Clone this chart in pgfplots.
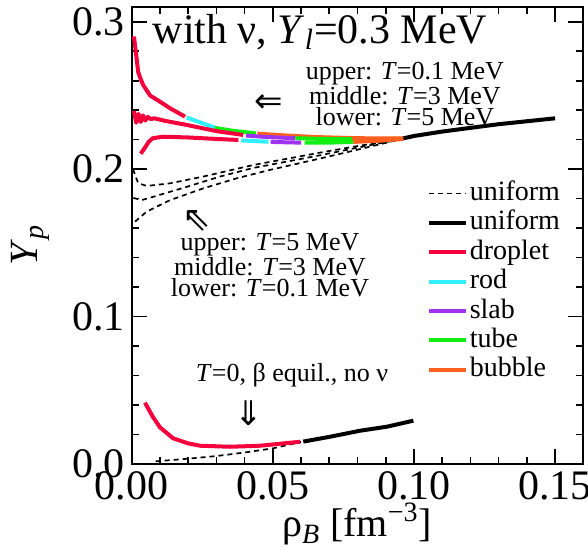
\documentclass[border=0pt]{standalone}
\usepackage{fontspec}
\setmainfont{Liberation Serif}
\newfontfamily\arrowfont{DejaVu Sans}
\usepackage{pgfplots}
\pgfplotsset{compat=1.18}
\definecolor{cDrop}{HTML}{F5003C}
\definecolor{cRod}{HTML}{33F0FF}
\definecolor{cSlab}{HTML}{A033F0}
\definecolor{cTube}{HTML}{11EE11}
\definecolor{cBub}{HTML}{FF6020}

\begin{document}
\begin{tikzpicture}
\begin{axis}[
  scale only axis, width=225.8pt, height=228.5pt,
  xmin=0, xmax=0.16, ymin=0, ymax=0.31,
  xtick={0,0.05,0.1,0.15}, ytick={0,0.1,0.2,0.3},
  minor x tick num=4, minor y tick num=4,
  scaled x ticks=false, scaled y ticks=false,
  xticklabel style={/pgf/number format/fixed, /pgf/number format/fixed zerofill, /pgf/number format/precision=2},
  yticklabel style={/pgf/number format/fixed, /pgf/number format/fixed zerofill, /pgf/number format/precision=1},
  /pgf/number format/assume math mode=true,
  tick label style={font=\fontsize{21}{24}\selectfont},
  major tick length=7.5pt, minor tick length=3.5pt,
  axis line style={line width=1pt},
  tick style={line width=0.8pt, black},
  xlabel={ρ\textsubscript{\textit{B}} [fm\textsuperscript{−3}]},
  ylabel={\textit{Y}\textsubscript{\textit{p}}},
  label style={font=\fontsize{20}{24}\selectfont},
  xlabel style={at={(axis description cs:0.499,-0.132)}, anchor=center},
  ylabel style={at={(axis description cs:-0.225,0.479)}, anchor=center, rotate=0},
  legend style={at={(axis cs:0.1045,0.1938)}, anchor=north west, draw=none, fill=none,
    font=\fontsize{14}{16}\selectfont, inner sep=0pt,
    nodes={inner sep=0.85pt, text height=10pt, text depth=3pt}},
  legend image code/.code={\draw[#1] (0pt,0pt) -- (18.5pt,0pt);},
  legend cell align=left,
  every axis plot/.append style={line width=2pt, line join=round},
]
% legend
\addlegendimage{black, line width=0.8pt, dash pattern=on 2.5pt off 2pt}
\addlegendentry{uniform}
\addlegendimage{black, line width=2pt}
\addlegendentry{uniform}
\addlegendimage{cDrop, line width=2pt}
\addlegendentry{droplet}
\addlegendimage{cRod, line width=2pt}
\addlegendentry{rod}
\addlegendimage{cSlab, line width=2pt}
\addlegendentry{slab}
\addlegendimage{cTube, line width=2pt}
\addlegendentry{tube}
\addlegendimage{cBub, line width=2pt}
\addlegendentry{bubble}

% uniform, dashed (with nu)
\addplot[forget plot, black, line width=0.85pt, dash pattern=on 2.5pt off 2pt] coordinates {
 (0.0005,0.200) (0.0012,0.196) (0.0023,0.1905) (0.0053,0.1886) (0.0136,0.1904)
 (0.0254,0.195) (0.043,0.2028) (0.0667,0.2112) (0.0785,0.2152) (0.096,0.2206)};
\addplot[forget plot, black, line width=0.85pt, dash pattern=on 2.5pt off 2pt] coordinates {
 (0.0006,0.1805) (0.0035,0.1790) (0.0077,0.1813) (0.0195,0.188) (0.0313,0.195)
 (0.043,0.2008) (0.0667,0.2094) (0.0785,0.2140) (0.096,0.2206)};
\addplot[forget plot, black, line width=0.85pt, dash pattern=on 2.5pt off 2pt] coordinates {
 (0.0012,0.1644) (0.0053,0.1712) (0.0136,0.179) (0.0254,0.187) (0.0372,0.1938)
 (0.049,0.1995) (0.0667,0.2072) (0.0785,0.2125) (0.096,0.2206)};
% uniform, solid (with nu)
\addplot[forget plot, black] coordinates {
 (0.096,0.2208) (0.10,0.2225) (0.11,0.2255) (0.12,0.2280) (0.13,0.2305) (0.14,0.2325) (0.15,0.2345)};

% upper: T=0.1 MeV
\addplot[forget plot, cDrop] coordinates {
 (0.0008,0.290) (0.0015,0.279) (0.0023,0.266) (0.0032,0.261) (0.0041,0.257) (0.0065,0.250)
 (0.010,0.2458) (0.0136,0.2413) (0.0189,0.2356)};
\addplot[forget plot, cRod] coordinates {
 (0.0195,0.2350) (0.025,0.2312) (0.0295,0.2282)};
\addplot[forget plot, cTube] coordinates {
 (0.0295,0.2280) (0.036,0.2260) (0.0440,0.2243)};
\addplot[forget plot, cBub] coordinates {
 (0.0445,0.2241) (0.055,0.2228) (0.065,0.2218) (0.080,0.2210) (0.096,0.2208)};

% middle: T=3 MeV
\addplot[forget plot, cDrop] coordinates {
 (0.0008,0.2395) (0.0016,0.2315) (0.0024,0.2375) (0.0032,0.2320) (0.0040,0.2365)
 (0.0048,0.2330) (0.0057,0.2355) (0.0067,0.2340) (0.0080,0.2345) (0.0120,0.2327)
 (0.0195,0.2300) (0.030,0.2258) (0.0395,0.2232)};
\addplot[forget plot, cSlab] coordinates {
 (0.0405,0.2228) (0.048,0.2218) (0.058,0.2210)};
\addplot[forget plot, cTube] coordinates {
 (0.058,0.2210) (0.068,0.2205) (0.078,0.2203)};
\addplot[forget plot, cBub] coordinates {
 (0.078,0.2203) (0.087,0.2204) (0.096,0.2207)};

% lower: T=5 MeV
\addplot[forget plot, cDrop] coordinates {
 (0.0032,0.2105) (0.0045,0.2140) (0.0060,0.2185) (0.0075,0.2210) (0.011,0.2220)
 (0.020,0.2215) (0.030,0.2205) (0.0378,0.2198)};
\addplot[forget plot, cRod] coordinates {
 (0.0388,0.2195) (0.044,0.2190) (0.0485,0.2186)};
\addplot[forget plot, cSlab] coordinates {
 (0.0492,0.2185) (0.055,0.2182) (0.0600,0.2180)};
\addplot[forget plot, cTube] coordinates {
 (0.0613,0.2180) (0.070,0.2180) (0.0785,0.2185)};
\addplot[forget plot, cBub] coordinates {
 (0.0785,0.2185) (0.088,0.2193) (0.0963,0.2205)};

% T=0, beta equilibrium, no nu
\addplot[forget plot, black, line width=0.85pt, dash pattern=on 2.5pt off 2pt] coordinates {
 (0.0085,0.0018) (0.020,0.0036) (0.030,0.0054) (0.040,0.0078) (0.050,0.0106) (0.0600,0.0150)};
\addplot[forget plot, cDrop] coordinates {
 (0.0047,0.0416) (0.0075,0.0320) (0.010,0.0249) (0.0147,0.0174) (0.0200,0.0140)
 (0.0242,0.0124) (0.0348,0.0117) (0.0455,0.0124) (0.0597,0.0151)};
\addplot[forget plot, black] coordinates {
 (0.0608,0.0152) (0.0703,0.0185) (0.081,0.0226) (0.0904,0.0253) (0.0998,0.0294)};

% annotations
\node[font=\fontsize{21}{24}\selectfont] at (axis cs:0.0667,0.293)
  {with ν, \textit{Y}\textsubscript{\textit{l}}=0.3 MeV};
\node[font=\fontsize{13}{10.5}\selectfont, align=center] at (axis cs:0.0968,0.251)
  {upper: \textit{T}=0.1 MeV\\middle: \textit{T}=3 MeV\\lower: \textit{T}=5 MeV};
\node[font=\arrowfont\fontsize{17}{17}\selectfont] at (axis cs:0.0487,0.2442) {⇐};
\node[font=\arrowfont\fontsize{17}{17}\selectfont] at (axis cs:0.0231,0.1649) {⇖};
\node[font=\fontsize{13}{10.5}\selectfont, align=center] at (axis cs:0.0490,0.135)
  {upper: \textit{T}=5 MeV\\middle: \textit{T}=3 MeV\\lower: \textit{T}=0.1 MeV};
\node[font=\fontsize{13}{15}\selectfont] at (axis cs:0.0568,0.0604)
  {\textit{T}=0, β equil., no ν};
\node[font=\arrowfont\fontsize{17}{17}\selectfont] at (axis cs:0.0416,0.0346) {⇓};
\end{axis}
\pgfresetboundingbox
\path (-65.85pt,-44pt) rectangle (228.15pt,232pt);
\end{tikzpicture}
\end{document}
